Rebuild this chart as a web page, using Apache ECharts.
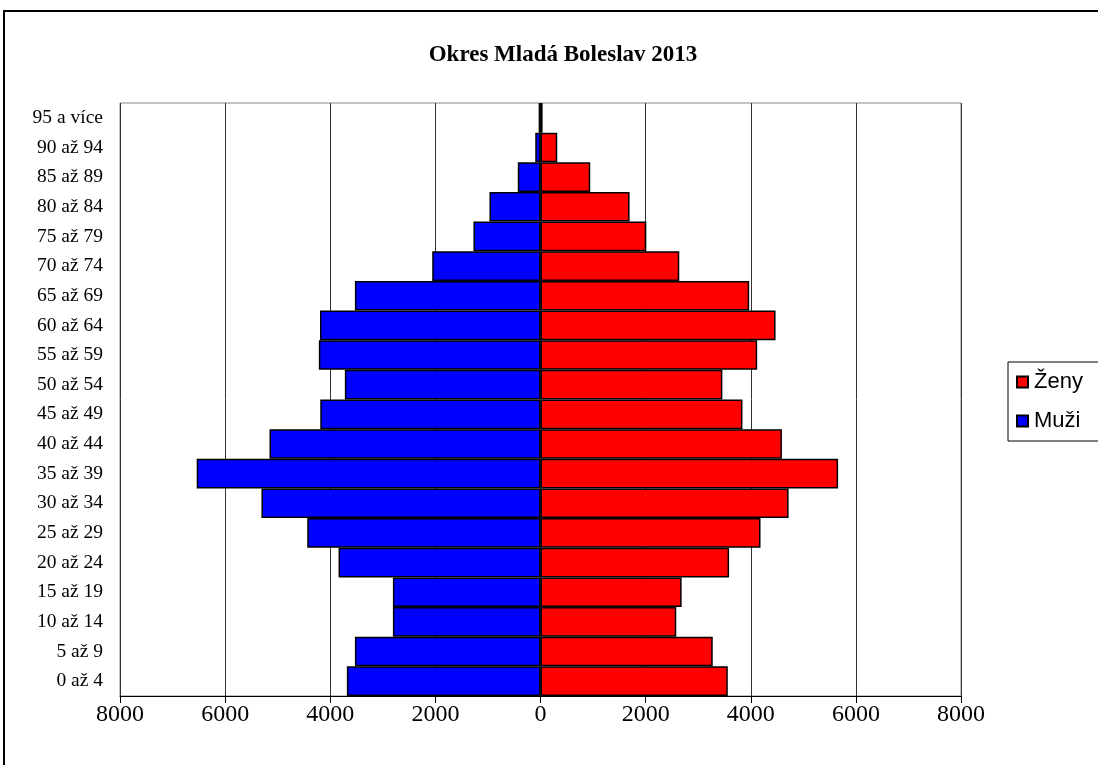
<!DOCTYPE html>
<html>
<head>
<meta charset="utf-8">
<script src="https://cdn.jsdelivr.net/npm/echarts@6/dist/echarts.min.js"></script>
<style>
html,body{margin:0;padding:0;background:#fff;}
#c{width:1098px;height:765px;}
</style>
</head>
<body>
<div id="c"></div>
<script>
const categories = ["0 až 4","5 až 9","10 až 14","15 až 19","20 až 24","25 až 29","30 až 34","35 až 39","40 až 44","45 až 49","50 až 54","55 až 59","60 až 64","65 až 69","70 až 74","75 až 79","80 až 84","85 až 89","90 až 94","95 a více"];
const muzi = [3684,3531,2808,2808,3842,4438,5309,6541,5156,4190,3722,4217,4195,3531,2060,1276,971,432,100,35];
const zeny = [3563,3277,2583,2685,3588,4186,4720,5662,4593,3842,3460,4122,4472,3970,2640,2013,1695,946,318,40];
const xTicks = [-8000,-6000,-4000,-2000,0,2000,4000,6000,8000];

const chart = echarts.init(document.getElementById('c'), null, {renderer:'canvas'});
chart.setOption({
  animation:false,
  backgroundColor:'#fff',
  title:{
    text:'Okres Mladá Boleslav 2013',
    left:558, top:39, textAlign:'center',
    textStyle:{fontFamily:'Liberation Serif', fontWeight:'bold', fontSize:23, color:'#000'}
  },
  legend:{
    orient:'vertical',
    left:1008, top:362,
    itemWidth:11, itemHeight:11, itemGap:17,
    padding:[9,30,9,8],
    borderColor:'#000', borderWidth:1,
    icon:'rect',
    data:['Ženy','Muži'],
    textStyle:{fontFamily:'Liberation Sans', fontSize:22, color:'#000', padding:[0,0,0,1]}
  },
  graphic:[{
    type:'rect', shape:{x:4, y:11, width:1110, height:770},
    style:{fill:null, stroke:'#000', lineWidth:2}, silent:true, z:-1
  }],
  grid:{left:120, right:137, top:103, bottom:69, show:true, borderColor:'#888', borderWidth:1, containLabel:false},
  xAxis:{
    type:'value', min:-8000, max:8000, interval:2000,
    axisLine:{show:true, onZero:false, lineStyle:{color:'#000', width:1}},
    axisTick:{show:true, length:7, lineStyle:{color:'#000'}},
    splitLine:{show:true, lineStyle:{color:'#333', width:1}},
    axisLabel:{margin:7, fontFamily:'Liberation Serif', fontSize:24, color:'#000',
      formatter:v=>String(Math.abs(v))}
  },
  yAxis:{
    type:'category', data:categories,
    axisLine:{show:false}, axisTick:{show:false},
    axisLabel:{margin:17, fontFamily:'Liberation Serif', fontSize:19.5, color:'#000'}
  },
  series:[
    {name:'Ženy', type:'bar', data:zeny, barGap:'-100%', barCategoryGap:'0%',
     itemStyle:{color:'#ff0000', borderColor:'#000', borderWidth:1.5}},
    {name:'Muži', type:'bar', data:muzi.map(v=>-v), barGap:'-100%', barCategoryGap:'0%',
     itemStyle:{color:'#0000ff', borderColor:'#000', borderWidth:1.5}}
  ]
});
</script>
</body>
</html>
